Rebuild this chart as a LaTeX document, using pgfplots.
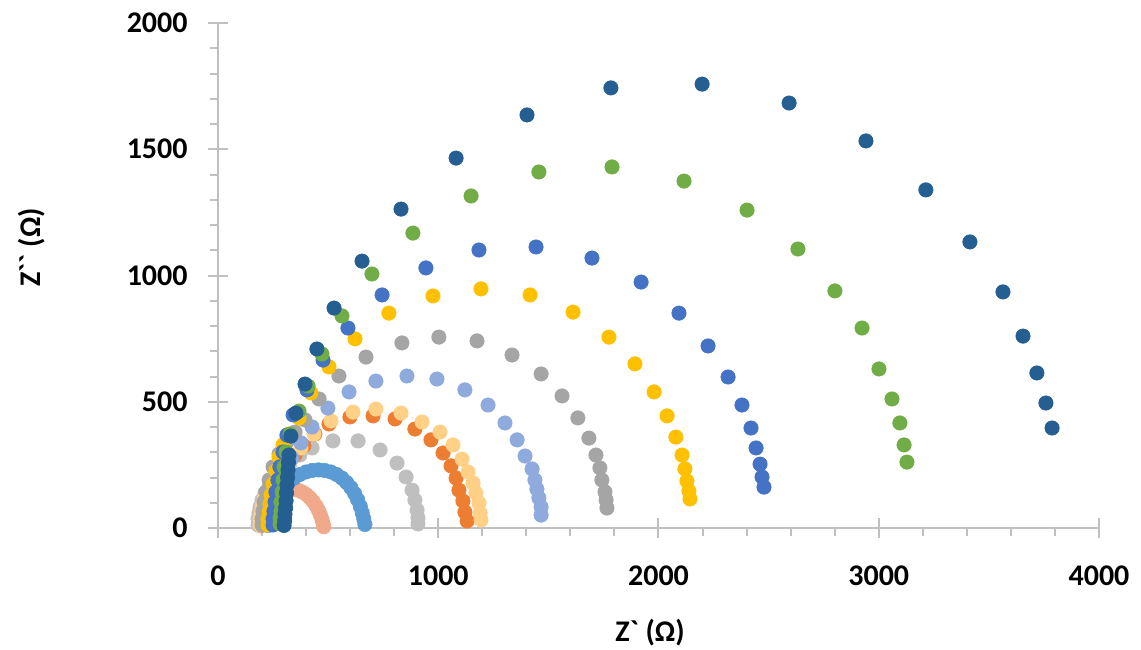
\documentclass[border=0pt]{standalone}
\usepackage{fontspec}
\setmainfont{Carlito}[Ligatures=TeXOff]
\usepackage{pgfplots}
\pgfplotsset{compat=1.18}
\definecolor{axisgray}{HTML}{C0C0C0}
\definecolor{cSalmon}{HTML}{F1A98C}
\definecolor{cMedBlue}{HTML}{5B9BD5}
\definecolor{cLtGray}{HTML}{BFBFBF}
\definecolor{cOrange}{HTML}{ED7D31}
\definecolor{cLtOrange}{HTML}{FFD086}
\definecolor{cLtPurple}{HTML}{8FAADC}
\definecolor{cGray}{HTML}{A5A5A5}
\definecolor{cGold}{HTML}{FFC000}
\definecolor{cBlue}{HTML}{4472C4}
\definecolor{cGreen}{HTML}{70AD47}
\definecolor{cDkBlue}{HTML}{255E91}
\pgfplotsset{dots/.style={only marks, mark=*, mark size=3.6pt, mark options={line width=0.3pt, draw=#1, fill=#1}, color=#1}}
\begin{document}
\begin{tikzpicture}
\useasboundingbox (-109pt,-60.5pt) rectangle (461.5pt,264pt);
\begin{axis}[
 at={(0,0)}, anchor=south west,
 scale only axis, width=440.5pt, height=252.5pt,
 xmin=0, xmax=4000, ymin=0, ymax=2000,
 axis x line*=bottom, axis y line*=left,
 axis line style={draw=axisgray, line width=1pt},
 xtick={0,1000,2000,3000,4000}, ytick={0,500,1000,1500,2000},
 minor x tick num=4, minor y tick num=4,
 tick align=center, major tick length=10pt, minor tick length=4pt,
 tick style={draw=axisgray, line width=1pt},
 minor x tick style={yshift=-2pt}, minor y tick style={xshift=-2pt},
 /pgf/number format/assume math mode=true,
 /pgf/number format/set thousands separator={},
 tick label style={font=\fontsize{15}{18}\selectfont\bfseries},
 xticklabel style={inner sep=0pt, yshift=-13.5pt},
 yticklabel style={inner sep=0pt, xshift=-10pt},
 every axis x label/.style={at={(axis description cs:0.4904,0)}, yshift=-52.5pt, anchor=center, font=\fontsize{15}{18}\selectfont\bfseries},
 every axis y label/.style={at={(axis description cs:0,0.556)}, xshift=-93pt, rotate=90, anchor=center, font=\fontsize{15}{18}\selectfont\bfseries},
 xlabel={Z` (Ω)}, ylabel={Z`` (Ω)},
 clip=false,
]
% salmon
\addplot[dots=cSalmon] coordinates {(195,8)(197,28)(201,50)(208,72)(218,93)(231,112)(246,128)(263,140)(282,149)(302,153)(322,155)(342,154)(362,150)(382,143)(400,133)(417,120)(432,105)(445,88)(456,70)(465,52)(472,34)(477,18)(480,5)};
% medium blue
\addplot[dots=cMedBlue] coordinates {(228,10)(230,30)(234,52)(240,75)(250,98)(263,122)(280,145)(300,165)(322,183)(346,198)(372,212)(400,222)(428,228)(456,230)(484,228)(512,222)(538,212)(562,198)(584,180)(603,160)(620,137)(634,112)(646,86)(655,60)(662,36)(667,14)};
% light gray
\addplot[dots=cLtGray] coordinates {(182,12)(182,36)(186,59)(191,83)(200,111)(213,139)(232,166)(254,194)(286,226)(327,257)(372,289)(427,317)(522,345)(636,345)(736,309)(813,257)(854,202)(881,150)(894,111)(904,71)(908,40)(908,16)};
% orange
\addplot[dots=cOrange] coordinates {(200,12)(200,36)(204,63)(209,91)(218,123)(232,154)(250,186)(277,218)(309,253)(350,289)(390,325)(440,372)(504,412)(599,440)(704,444)(804,432)(894,392)(967,349)(1022,297)(1058,246)(1081,198)(1094,150)(1112,107)(1121,63)(1131,28)};
% light orange
\addplot[dots=cLtOrange] coordinates {(191,12)(191,36)(195,59)(200,87)(209,115)(222,143)(241,174)(263,206)(291,238)(331,273)(377,317)(436,372)(513,424)(613,459)(717,471)(831,455)(926,420)(1008,380)(1067,329)(1108,273)(1135,222)(1158,178)(1171,139)(1185,99)(1190,59)(1194,32)};
% light purple
\addplot[dots=cLtPurple] coordinates {(227,12)(227,36)(232,63)(236,91)(245,123)(254,154)(272,190)(300,230)(336,277)(377,337)(427,400)(499,475)(595,539)(717,582)(858,602)(994,590)(1121,547)(1226,487)(1303,416)(1358,349)(1394,285)(1426,234)(1439,190)(1448,154)(1457,119)(1467,83)(1467,51)};
% gray
\addplot[dots=cGray] coordinates {(200,12)(200,36)(204,67)(209,103)(218,143)(232,190)(250,242)(277,293)(313,341)(350,380)(395,428)(459,511)(549,602)(672,677)(835,733)(1003,756)(1176,741)(1335,685)(1467,610)(1562,523)(1634,436)(1684,356)(1716,289)(1734,238)(1743,190)(1757,143)(1762,111)(1766,79)};
% gold
\addplot[dots=cGold] coordinates {(227,12)(227,36)(232,63)(236,95)(241,131)(250,174)(263,226)(277,281)(295,329)(322,372)(368,436)(422,535)(504,638)(622,749)(776,851)(976,919)(1194,947)(1417,923)(1612,855)(1775,756)(1893,650)(1980,539)(2039,444)(2079,360)(2107,289)(2120,234)(2129,186)(2138,147)(2143,115)};
% blue
\addplot[dots=cBlue] coordinates {(250,12)(250,36)(254,67)(259,103)(263,143)(272,190)(281,242)(295,301)(313,368)(341,448)(404,547)(477,665)(590,792)(745,923)(944,1030)(1185,1101)(1444,1113)(1698,1069)(1921,974)(2093,851)(2225,721)(2316,598)(2379,487)(2420,396)(2443,317)(2461,253)(2470,202)(2479,162)};
% green
\addplot[dots=cGreen] coordinates {(282,16)(282,40)(286,67)(286,103)(291,143)(295,190)(300,242)(309,301)(327,372)(368,463)(409,562)(472,689)(563,840)(699,1006)(885,1168)(1149,1315)(1457,1410)(1789,1430)(2116,1374)(2402,1259)(2633,1105)(2801,939)(2924,792)(3001,630)(3060,511)(3096,416)(3115,329)(3128,261)};
% dark blue
\addplot[dots=cDkBlue] coordinates {(300,10)(303,30)(304,55)(307,80)(309,108)(311,139)(313,170)(316,200)(318,230)(320,260)(322,289)(331,364)(354,455)(395,570)(449,709)(527,871)(654,1057)(831,1263)(1081,1465)(1403,1636)(1784,1743)(2198,1758)(2593,1683)(2942,1533)(3214,1339)(3414,1133)(3564,935)(3655,760)(3718,614)(3759,495)(3787,396)};
\end{axis}
\end{tikzpicture}
\end{document}
